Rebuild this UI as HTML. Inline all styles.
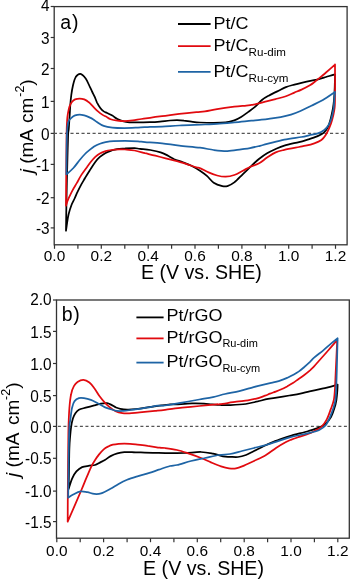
<!DOCTYPE html>
<html><head><meta charset="utf-8"><style>
html,body{margin:0;padding:0;background:#fff;}
svg{display:block;will-change:transform;filter:blur(0.35px);}
text{font-family:"Liberation Sans",sans-serif;fill:#000;}
.tk{font-size:15.4px;}
.lg{font-size:18px;}
.sb{font-size:11.5px;}
.pl{font-size:19.5px;}
.ti{font-size:19.6px;}
.yt{font-size:19px;}
.sp{font-size:12.4px;}
</style></head><body>
<svg width="350" height="579" viewBox="0 0 350 579">
<rect width="350" height="579" fill="#fff"/>
<rect x="54.2" y="6.6" width="292.90000000000003" height="238.20000000000002" fill="none" stroke="#333333" stroke-width="1.3"/>
<line x1="54.5" y1="244.8" x2="54.5" y2="248.8" stroke="#333333" stroke-width="1.2"/>
<text x="54.5" y="261.0" text-anchor="middle" class="tk">0.0</text>
<line x1="77.9" y1="244.8" x2="77.9" y2="248.8" stroke="#333333" stroke-width="1.2"/>
<line x1="101.3" y1="244.8" x2="101.3" y2="248.8" stroke="#333333" stroke-width="1.2"/>
<text x="101.3" y="261.0" text-anchor="middle" class="tk">0.2</text>
<line x1="124.8" y1="244.8" x2="124.8" y2="248.8" stroke="#333333" stroke-width="1.2"/>
<line x1="148.2" y1="244.8" x2="148.2" y2="248.8" stroke="#333333" stroke-width="1.2"/>
<text x="148.2" y="261.0" text-anchor="middle" class="tk">0.4</text>
<line x1="171.6" y1="244.8" x2="171.6" y2="248.8" stroke="#333333" stroke-width="1.2"/>
<line x1="195.0" y1="244.8" x2="195.0" y2="248.8" stroke="#333333" stroke-width="1.2"/>
<text x="195.0" y="261.0" text-anchor="middle" class="tk">0.6</text>
<line x1="218.4" y1="244.8" x2="218.4" y2="248.8" stroke="#333333" stroke-width="1.2"/>
<line x1="241.9" y1="244.8" x2="241.9" y2="248.8" stroke="#333333" stroke-width="1.2"/>
<text x="241.9" y="261.0" text-anchor="middle" class="tk">0.8</text>
<line x1="265.3" y1="244.8" x2="265.3" y2="248.8" stroke="#333333" stroke-width="1.2"/>
<line x1="288.7" y1="244.8" x2="288.7" y2="248.8" stroke="#333333" stroke-width="1.2"/>
<text x="288.7" y="261.0" text-anchor="middle" class="tk">1.0</text>
<line x1="312.1" y1="244.8" x2="312.1" y2="248.8" stroke="#333333" stroke-width="1.2"/>
<line x1="335.5" y1="244.8" x2="335.5" y2="248.8" stroke="#333333" stroke-width="1.2"/>
<text x="335.5" y="261.0" text-anchor="middle" class="tk">1.2</text>
<line x1="50.7" y1="6.5" x2="54.2" y2="6.5" stroke="#333333" stroke-width="1.2"/>
<text transform="translate(49.6,11.0) scale(1,1.12)" text-anchor="end" class="tk">4</text>
<line x1="50.7" y1="37.5" x2="54.2" y2="37.5" stroke="#333333" stroke-width="1.2"/>
<text transform="translate(49.6,43.6) scale(1,1.12)" text-anchor="end" class="tk">3</text>
<line x1="50.7" y1="68.5" x2="54.2" y2="68.5" stroke="#333333" stroke-width="1.2"/>
<text transform="translate(49.6,74.6) scale(1,1.12)" text-anchor="end" class="tk">2</text>
<line x1="50.7" y1="101.4" x2="54.2" y2="101.4" stroke="#333333" stroke-width="1.2"/>
<text transform="translate(49.6,107.5) scale(1,1.12)" text-anchor="end" class="tk">1</text>
<line x1="50.7" y1="133.4" x2="54.2" y2="133.4" stroke="#333333" stroke-width="1.2"/>
<text transform="translate(49.6,139.5) scale(1,1.12)" text-anchor="end" class="tk">0</text>
<line x1="50.7" y1="164.4" x2="54.2" y2="164.4" stroke="#333333" stroke-width="1.2"/>
<text transform="translate(49.6,170.5) scale(1,1.12)" text-anchor="end" class="tk">-1</text>
<line x1="50.7" y1="197.7" x2="54.2" y2="197.7" stroke="#333333" stroke-width="1.2"/>
<text transform="translate(49.6,203.8) scale(1,1.12)" text-anchor="end" class="tk">-2</text>
<line x1="50.7" y1="227.9" x2="54.2" y2="227.9" stroke="#333333" stroke-width="1.2"/>
<text transform="translate(49.6,234.0) scale(1,1.12)" text-anchor="end" class="tk">-3</text>
<rect x="56.5" y="300.0" width="292.8" height="238.20000000000005" fill="none" stroke="#333333" stroke-width="1.3"/>
<line x1="56.8" y1="538.2" x2="56.8" y2="542.2" stroke="#333333" stroke-width="1.2"/>
<text x="56.8" y="556.3" text-anchor="middle" class="tk">0.0</text>
<line x1="80.2" y1="538.2" x2="80.2" y2="542.2" stroke="#333333" stroke-width="1.2"/>
<line x1="103.6" y1="538.2" x2="103.6" y2="542.2" stroke="#333333" stroke-width="1.2"/>
<text x="103.6" y="556.3" text-anchor="middle" class="tk">0.2</text>
<line x1="127.1" y1="538.2" x2="127.1" y2="542.2" stroke="#333333" stroke-width="1.2"/>
<line x1="150.5" y1="538.2" x2="150.5" y2="542.2" stroke="#333333" stroke-width="1.2"/>
<text x="150.5" y="556.3" text-anchor="middle" class="tk">0.4</text>
<line x1="173.9" y1="538.2" x2="173.9" y2="542.2" stroke="#333333" stroke-width="1.2"/>
<line x1="197.3" y1="538.2" x2="197.3" y2="542.2" stroke="#333333" stroke-width="1.2"/>
<text x="197.3" y="556.3" text-anchor="middle" class="tk">0.6</text>
<line x1="220.7" y1="538.2" x2="220.7" y2="542.2" stroke="#333333" stroke-width="1.2"/>
<line x1="244.2" y1="538.2" x2="244.2" y2="542.2" stroke="#333333" stroke-width="1.2"/>
<text x="244.2" y="556.3" text-anchor="middle" class="tk">0.8</text>
<line x1="267.6" y1="538.2" x2="267.6" y2="542.2" stroke="#333333" stroke-width="1.2"/>
<line x1="291.0" y1="538.2" x2="291.0" y2="542.2" stroke="#333333" stroke-width="1.2"/>
<text x="291.0" y="556.3" text-anchor="middle" class="tk">1.0</text>
<line x1="314.4" y1="538.2" x2="314.4" y2="542.2" stroke="#333333" stroke-width="1.2"/>
<line x1="337.8" y1="538.2" x2="337.8" y2="542.2" stroke="#333333" stroke-width="1.2"/>
<text x="337.8" y="556.3" text-anchor="middle" class="tk">1.2</text>
<line x1="53.0" y1="300.0" x2="56.5" y2="300.0" stroke="#333333" stroke-width="1.2"/>
<text transform="translate(51.6,304.5) scale(1,1.12)" text-anchor="end" class="tk">2.0</text>
<line x1="53.0" y1="331.4" x2="56.5" y2="331.4" stroke="#333333" stroke-width="1.2"/>
<text transform="translate(51.6,337.5) scale(1,1.12)" text-anchor="end" class="tk">1.5</text>
<line x1="53.0" y1="363.5" x2="56.5" y2="363.5" stroke="#333333" stroke-width="1.2"/>
<text transform="translate(51.6,369.6) scale(1,1.12)" text-anchor="end" class="tk">1.0</text>
<line x1="53.0" y1="395.6" x2="56.5" y2="395.6" stroke="#333333" stroke-width="1.2"/>
<text transform="translate(51.6,401.7) scale(1,1.12)" text-anchor="end" class="tk">0.5</text>
<line x1="53.0" y1="426.4" x2="56.5" y2="426.4" stroke="#333333" stroke-width="1.2"/>
<text transform="translate(51.6,432.5) scale(1,1.12)" text-anchor="end" class="tk">0.0</text>
<line x1="53.0" y1="458.3" x2="56.5" y2="458.3" stroke="#333333" stroke-width="1.2"/>
<text transform="translate(51.6,464.4) scale(1,1.12)" text-anchor="end" class="tk">-0.5</text>
<line x1="53.0" y1="491.1" x2="56.5" y2="491.1" stroke="#333333" stroke-width="1.2"/>
<text transform="translate(51.6,497.2) scale(1,1.12)" text-anchor="end" class="tk">-1.0</text>
<line x1="53.0" y1="521.6" x2="56.5" y2="521.6" stroke="#333333" stroke-width="1.2"/>
<text transform="translate(51.6,527.7) scale(1,1.12)" text-anchor="end" class="tk">-1.5</text>
<line x1="53.9" y1="133.4" x2="345.6" y2="133.4" stroke="#555" stroke-width="1.1" stroke-dasharray="3.1,2.422"/>
<line x1="57.9" y1="426.4" x2="347.4" y2="426.4" stroke="#555" stroke-width="1.1" stroke-dasharray="3.0,2.5"/>
<path d="M66.0,230.7 C66.1,226.4 66.2,213.4 66.4,205.0 C66.6,196.6 66.7,187.5 66.9,180.0 C67.1,172.5 67.2,167.5 67.4,160.0 C67.6,152.5 67.9,140.1 68.1,135.0 C68.3,129.9 68.5,132.4 68.7,129.3 C69.0,126.2 69.3,120.7 69.6,116.4 C69.9,112.1 70.1,107.2 70.4,103.6 C70.7,100.0 70.9,98.0 71.3,95.0 C71.7,92.0 72.2,88.7 72.9,85.7 C73.6,82.7 74.5,79.1 75.7,77.1 C77.0,75.1 78.7,73.7 80.4,73.9 C82.1,74.2 84.1,76.4 85.7,78.6 C87.3,80.8 88.9,84.9 90.0,87.1 C91.1,89.3 91.5,90.4 92.3,92.0 C93.1,93.6 93.8,94.9 94.6,96.6 C95.4,98.3 96.0,100.4 96.9,102.3 C97.9,104.2 99.2,106.5 100.3,108.0 C101.4,109.5 102.6,110.6 103.7,111.4 C104.8,112.2 105.7,112.3 107.1,113.0 C108.5,113.7 110.6,114.6 112.3,115.6 C114.0,116.6 115.7,118.1 117.4,119.0 C119.1,119.9 120.6,120.5 122.6,121.1 C124.6,121.7 126.8,122.2 129.4,122.4 C132.0,122.6 134.6,122.4 138.0,122.4 C141.4,122.4 146.3,122.3 150.0,122.2 C153.7,122.1 156.7,121.9 160.0,121.6 C163.3,121.3 167.2,120.7 170.0,120.5 C172.8,120.3 174.7,120.2 177.0,120.2 C179.3,120.2 181.6,120.3 184.0,120.6 C186.4,120.8 188.7,121.4 191.4,121.7 C194.1,122.0 196.3,122.3 200.0,122.5 C203.7,122.7 209.4,122.9 213.7,122.9 C218.0,122.9 222.3,122.8 225.7,122.4 C229.1,122.0 231.7,121.3 234.3,120.4 C236.9,119.5 238.8,118.4 241.1,117.0 C243.4,115.6 245.7,113.8 248.0,112.1 C250.3,110.4 252.7,108.9 255.0,106.9 C257.3,104.9 259.6,101.9 261.9,100.0 C264.2,98.1 266.1,97.1 268.7,95.7 C271.3,94.3 274.4,92.8 277.3,91.4 C280.2,90.0 283.0,88.2 285.9,87.1 C288.8,86.0 291.8,85.3 294.4,84.6 C297.0,83.9 298.6,83.5 301.5,82.8 C304.4,82.1 309.0,81.1 311.6,80.6 C314.2,80.1 314.7,80.2 317.1,79.6 C319.5,79.0 323.0,77.9 326.0,77.0 C329.0,76.1 333.5,74.8 335.0,74.3 M335.0,74.3 C334.9,76.6 334.9,83.7 334.7,88.0 C334.5,92.3 334.3,96.6 334.0,100.0 C333.7,103.4 333.4,105.5 332.9,108.6 C332.3,111.7 331.5,115.5 330.7,118.6 C329.9,121.7 329.1,124.7 327.9,127.1 C326.7,129.5 325.4,131.3 323.6,132.9 C321.8,134.5 319.6,135.3 317.1,136.4 C314.6,137.5 311.6,138.4 308.6,139.3 C305.6,140.2 303.1,141.1 299.0,142.1 C294.9,143.1 288.2,144.4 284.3,145.6 C280.4,146.8 278.6,147.7 275.7,149.0 C272.8,150.3 270.0,151.6 267.1,153.3 C264.2,155.0 261.4,157.1 258.6,159.3 C255.8,161.5 253.1,164.2 250.5,166.7 C247.9,169.2 245.6,171.5 242.9,174.1 C240.2,176.7 236.9,180.4 234.3,182.4 C231.7,184.4 229.4,185.5 227.4,186.1 C225.4,186.7 224.6,186.7 222.3,186.1 C220.0,185.5 216.3,184.4 213.7,182.7 C211.1,181.0 209.2,177.9 206.9,175.9 C204.6,173.9 202.6,172.4 200.0,170.7 C197.4,169.0 194.2,167.1 191.4,165.7 C188.6,164.3 185.8,163.4 182.9,162.3 C180.1,161.2 176.9,160.3 174.3,159.2 C171.7,158.0 169.7,156.6 167.4,155.4 C165.1,154.2 163.4,153.2 160.6,152.3 C157.8,151.4 153.7,150.6 150.3,150.0 C146.9,149.4 142.6,149.2 140.0,148.9 C137.4,148.6 137.1,148.2 134.6,148.1 C132.1,148.0 127.9,148.3 125.0,148.5 C122.1,148.7 119.3,148.8 117.0,149.1 C114.7,149.4 113.2,150.0 111.3,150.6 C109.4,151.2 107.5,151.8 105.6,152.9 C103.7,154.0 101.6,155.4 99.9,156.9 C98.2,158.4 96.8,160.0 95.3,162.0 C93.8,164.0 92.3,166.4 90.6,169.1 C88.9,171.8 86.6,175.4 84.9,178.3 C83.2,181.2 81.6,183.8 80.3,186.3 C79.0,188.8 77.9,191.1 76.9,193.1 C76.0,195.1 75.5,196.5 74.6,198.5 C73.7,200.5 72.4,202.6 71.4,205.2 C70.4,207.8 69.3,211.4 68.6,214.3 C67.9,217.2 67.5,220.2 67.1,222.9 C66.7,225.6 66.2,229.4 66.0,230.7" fill="none" stroke="#000000" stroke-width="1.75" stroke-linejoin="round" stroke-linecap="round"/>
<path d="M66.0,205.7 C66.0,200.6 66.1,187.0 66.2,175.0 C66.3,163.0 66.4,142.7 66.6,133.6 C66.8,124.5 66.9,123.8 67.1,120.7 C67.3,117.6 67.3,117.2 67.7,114.9 C68.1,112.6 68.7,109.0 69.4,106.9 C70.1,104.8 70.8,103.5 71.7,102.3 C72.7,101.0 73.8,100.0 75.1,99.4 C76.4,98.8 78.2,98.5 79.7,98.5 C81.2,98.5 82.8,98.8 84.3,99.4 C85.8,100.0 87.4,101.0 88.9,102.3 C90.4,103.5 91.9,105.4 93.4,106.9 C94.9,108.4 96.5,110.1 98.0,111.4 C99.5,112.7 101.3,114.0 102.6,114.9 C103.9,115.8 104.7,115.9 106.0,116.6 C107.3,117.3 108.7,118.6 110.6,119.3 C112.5,120.0 115.1,120.4 117.4,120.7 C119.7,121.0 121.7,121.2 124.3,121.2 C126.9,121.2 130.1,120.8 132.9,120.4 C135.8,120.0 138.6,119.4 141.4,119.0 C144.2,118.6 146.6,118.3 150.0,117.8 C153.4,117.3 157.2,116.8 162.1,116.2 C167.0,115.6 173.6,114.6 179.3,113.9 C185.0,113.2 192.1,112.5 196.4,112.1 C200.7,111.7 201.6,111.8 205.0,111.3 C208.4,110.8 212.2,109.9 217.1,109.1 C222.0,108.3 229.4,107.3 234.3,106.7 C239.2,106.1 243.5,105.9 246.3,105.6 C249.2,105.3 250.0,105.1 251.4,104.9 C252.8,104.7 252.7,104.8 255.0,104.3 C257.3,103.8 261.9,102.6 265.3,101.7 C268.7,100.8 272.2,100.0 275.6,99.1 C279.0,98.2 282.8,97.3 285.9,96.2 C289.0,95.1 291.8,93.7 294.4,92.6 C297.0,91.5 298.9,90.8 301.5,89.6 C304.1,88.4 307.7,86.6 309.9,85.3 C312.1,84.0 312.6,83.5 314.5,82.0 C316.4,80.5 319.5,78.0 321.4,76.4 C323.3,74.8 323.7,74.5 326.0,72.5 C328.3,70.5 333.5,65.9 335.0,64.6 M335.0,64.3 C335.0,70.2 335.1,92.4 335.0,100.0 C334.9,107.6 334.8,106.7 334.3,110.0 C333.8,113.3 332.9,117.0 332.1,120.0 C331.3,123.0 330.4,125.4 329.3,127.9 C328.2,130.4 327.0,133.0 325.7,135.0 C324.4,137.0 323.3,138.6 321.4,140.0 C319.5,141.4 316.9,142.4 314.3,143.3 C311.7,144.2 308.2,145.1 305.7,145.7 C303.1,146.3 302.6,146.3 299.0,147.0 C295.4,147.7 288.2,149.0 284.3,149.9 C280.4,150.8 278.6,151.1 275.7,152.4 C272.8,153.7 270.0,155.7 267.1,157.6 C264.2,159.5 261.4,162.1 258.6,163.6 C255.8,165.1 253.1,165.5 250.5,166.7 C247.9,167.9 245.6,169.3 242.9,170.7 C240.2,172.1 237.2,174.0 234.3,175.0 C231.4,176.0 228.6,176.6 225.7,176.7 C222.8,176.8 219.9,176.2 217.1,175.5 C214.2,174.8 211.4,173.6 208.6,172.4 C205.8,171.2 202.0,168.9 200.0,168.1 C198.0,167.2 198.7,168.0 196.4,167.3 C194.1,166.6 189.5,165.0 186.1,163.9 C182.7,162.8 179.3,161.7 175.9,160.8 C172.5,159.9 169.0,159.3 165.6,158.4 C162.2,157.5 158.7,156.5 155.3,155.6 C151.9,154.7 148.4,154.0 145.0,153.2 C141.6,152.3 137.9,151.1 134.6,150.5 C131.3,149.9 127.5,149.7 125.0,149.5 C122.5,149.3 121.6,149.3 119.3,149.4 C117.0,149.5 113.6,149.7 111.3,150.0 C109.0,150.3 107.5,150.5 105.6,151.1 C103.7,151.7 101.6,152.4 99.9,153.4 C98.2,154.4 96.8,155.5 95.3,156.9 C93.8,158.3 92.1,160.3 90.7,162.0 C89.3,163.7 88.6,164.8 87.1,166.9 C85.5,169.1 83.1,172.2 81.4,174.9 C79.7,177.6 78.3,180.4 76.9,182.9 C75.5,185.4 74.2,187.4 72.9,189.7 C71.7,192.0 70.3,194.8 69.4,196.6 C68.5,198.4 68.3,199.0 67.7,200.5 C67.1,202.0 66.3,204.8 66.0,205.7" fill="none" stroke="#E10A0F" stroke-width="1.75" stroke-linejoin="round" stroke-linecap="round"/>
<path d="M66.4,174.3 C66.4,170.2 66.5,156.9 66.6,150.0 C66.7,143.1 66.7,137.4 67.0,132.7 C67.3,128.0 67.5,124.5 68.3,122.0 C69.1,119.5 70.6,118.8 71.7,117.7 C72.8,116.6 73.8,115.9 75.1,115.4 C76.4,114.9 78.2,114.6 79.7,114.6 C81.2,114.6 82.8,115.0 84.3,115.4 C85.8,115.8 87.4,116.4 88.9,117.1 C90.4,117.8 92.1,118.6 93.4,119.4 C94.7,120.2 95.2,120.9 96.9,122.0 C98.6,123.1 101.1,125.0 103.7,125.9 C106.3,126.8 108.9,127.2 112.3,127.6 C115.7,128.0 120.0,128.1 124.3,128.1 C128.6,128.1 133.7,127.8 138.0,127.6 C142.3,127.4 146.0,127.1 150.0,126.9 C154.0,126.8 157.2,126.9 162.1,126.7 C167.0,126.5 172.2,125.9 179.3,125.5 C186.5,125.1 198.7,124.8 205.0,124.5 C211.3,124.2 212.2,124.1 217.1,123.8 C222.0,123.5 228.6,122.9 234.3,122.4 C240.0,121.9 247.1,121.1 251.4,120.7 C255.7,120.3 257.1,120.2 260.0,119.9 C262.9,119.6 265.2,119.4 268.7,118.9 C272.1,118.4 277.0,117.8 280.7,117.1 C284.4,116.4 287.7,115.6 291.0,114.6 C294.3,113.6 297.1,112.5 300.5,111.0 C303.9,109.5 307.7,107.5 311.4,105.7 C315.1,103.9 319.0,102.3 322.9,100.0 C326.8,97.7 333.0,93.2 335.0,91.9 M335.0,91.9 C334.9,93.2 334.5,97.2 334.3,100.0 C334.1,102.8 334.1,105.5 333.6,108.6 C333.1,111.7 332.2,115.9 331.4,118.6 C330.6,121.3 329.8,123.1 328.6,125.0 C327.4,126.9 326.2,128.6 324.3,130.0 C322.4,131.4 319.7,132.7 317.1,133.6 C314.6,134.5 311.6,134.7 309.0,135.3 C306.4,135.9 305.5,136.3 301.4,137.0 C297.3,137.7 290.0,138.4 284.3,139.6 C278.6,140.8 271.2,142.9 267.1,143.9 C263.1,144.9 262.9,145.1 260.0,145.8 C257.1,146.5 253.2,147.5 250.0,148.1 C246.8,148.7 244.9,148.8 241.1,149.3 C237.3,149.8 232.0,151.0 227.4,151.1 C222.8,151.2 218.3,150.6 213.7,150.0 C209.1,149.4 205.7,148.4 200.0,147.7 C194.3,147.0 185.6,146.3 179.3,145.6 C173.0,144.9 167.8,143.9 162.1,143.3 C156.4,142.7 149.0,142.4 145.0,142.1 C141.0,141.8 141.3,141.5 138.0,141.3 C134.7,141.1 129.1,140.9 125.0,140.9 C120.9,140.9 116.8,141.0 113.6,141.2 C110.4,141.4 107.9,141.8 105.6,142.2 C103.3,142.6 101.8,143.0 99.9,143.7 C98.0,144.4 95.8,145.5 94.1,146.6 C92.4,147.7 91.1,148.8 89.6,150.0 C88.1,151.2 86.7,152.3 85.0,154.0 C83.3,155.7 81.6,157.7 79.7,160.0 C77.8,162.3 75.6,165.6 73.4,168.0 C71.2,170.4 67.7,173.2 66.5,174.3" fill="none" stroke="#1E64A5" stroke-width="1.75" stroke-linejoin="round" stroke-linecap="round"/>
<path d="M68.6,489.0 C68.7,485.8 68.9,476.9 69.0,470.0 C69.1,463.1 69.2,452.8 69.4,447.7 C69.6,442.6 69.6,442.5 69.9,439.1 C70.2,435.7 70.6,430.5 71.1,427.1 C71.6,423.7 72.2,420.9 72.9,418.6 C73.6,416.3 74.4,414.8 75.4,413.3 C76.4,411.8 77.2,410.6 78.9,409.7 C80.6,408.8 83.1,408.4 85.7,407.7 C88.3,407.0 91.7,406.1 94.3,405.4 C96.9,404.7 99.0,404.1 101.1,403.7 C103.2,403.3 105.4,403.0 107.1,403.2 C108.8,403.4 109.9,404.2 111.4,404.9 C112.9,405.6 114.5,406.9 116.0,407.5 C117.5,408.1 118.5,408.5 120.3,408.8 C122.1,409.1 124.5,409.4 127.1,409.5 C129.7,409.6 132.8,409.4 135.7,409.1 C138.6,408.8 141.4,408.3 144.3,407.9 C147.2,407.5 150.1,407.0 152.9,406.6 C155.8,406.2 158.6,405.8 161.4,405.4 C164.2,405.0 167.6,404.5 170.0,404.3 C172.4,404.1 172.3,404.5 176.0,404.4 C179.7,404.2 187.3,403.5 192.0,403.4 C196.7,403.3 200.7,403.4 204.0,403.6 C207.3,403.8 209.3,404.2 212.0,404.4 C214.7,404.6 217.0,404.9 220.0,405.0 C223.0,405.1 225.7,405.3 230.0,405.1 C234.3,404.9 241.1,404.6 245.7,404.0 C250.3,403.4 254.0,402.2 257.7,401.4 C261.4,400.5 265.1,399.5 268.0,398.9 C270.9,398.3 271.4,398.5 275.0,397.9 C278.6,397.3 285.2,396.2 289.4,395.5 C293.6,394.8 296.9,394.3 300.3,393.6 C303.7,392.9 306.0,392.2 309.6,391.4 C313.2,390.6 318.7,389.4 322.1,388.6 C325.5,387.9 327.5,387.6 330.1,386.9 C332.7,386.2 336.4,385.0 337.6,384.6 M337.6,384.6 C337.6,385.5 337.6,387.4 337.4,390.0 C337.2,392.6 336.9,396.9 336.4,400.0 C335.9,403.1 335.2,405.8 334.3,408.6 C333.4,411.5 332.4,414.6 331.0,417.1 C329.6,419.6 327.6,421.9 325.7,423.6 C323.8,425.3 322.1,426.2 319.3,427.4 C316.5,428.6 313.2,429.6 308.6,431.0 C304.0,432.4 296.2,434.2 291.4,435.6 C286.6,437.0 282.9,438.3 280.0,439.3 C277.1,440.3 276.7,440.5 274.0,441.6 C271.3,442.7 267.3,444.4 264.0,446.0 C260.7,447.6 257.0,449.5 254.0,451.0 C251.0,452.5 248.7,454.0 246.0,455.0 C243.3,456.0 240.7,456.7 238.0,457.0 C235.3,457.3 232.5,456.9 230.0,456.8 C227.5,456.7 225.8,456.9 223.0,456.4 C220.2,455.9 216.7,454.3 213.0,453.6 C209.3,452.9 205.7,452.1 201.0,452.0 C196.3,451.9 190.2,452.8 185.0,453.0 C179.8,453.2 175.3,453.1 170.0,453.1 C164.7,453.1 158.6,452.9 152.9,452.8 C147.2,452.7 139.5,452.4 135.7,452.3 C131.9,452.2 131.9,452.0 130.0,452.0 C128.1,452.0 126.4,452.0 124.3,452.2 C122.2,452.4 119.7,452.8 117.4,453.4 C115.1,454.0 112.7,455.0 110.6,456.1 C108.5,457.2 106.6,459.0 104.9,460.0 C103.2,461.0 102.4,461.3 100.7,462.1 C99.0,462.9 96.9,464.4 95.0,465.0 C93.1,465.6 91.5,465.3 89.3,465.7 C87.1,466.1 84.2,466.2 82.1,467.1 C79.9,468.1 78.1,469.5 76.4,471.4 C74.7,473.3 73.4,475.7 72.1,478.6 C70.8,481.5 69.2,487.3 68.6,489.0" fill="none" stroke="#000000" stroke-width="1.75" stroke-linejoin="round" stroke-linecap="round"/>
<path d="M67.7,521.7 C67.7,514.8 67.8,493.6 67.9,480.0 C68.0,466.4 68.2,449.4 68.3,440.0 C68.4,430.6 68.4,429.0 68.6,423.7 C68.8,418.4 69.0,412.9 69.4,408.0 C69.8,403.1 70.3,397.9 71.1,394.3 C71.8,390.7 72.8,388.2 73.9,386.2 C75.0,384.1 75.9,383.1 77.5,382.0 C79.1,380.9 81.4,379.7 83.4,379.8 C85.4,379.9 87.6,381.1 89.4,382.5 C91.2,383.9 92.8,386.2 94.5,388.5 C96.2,390.8 97.7,393.7 99.4,396.0 C101.1,398.3 103.0,400.6 104.6,402.3 C106.1,404.0 106.9,404.8 108.7,406.3 C110.5,407.8 113.3,410.1 115.6,411.2 C117.9,412.3 120.1,412.8 122.4,413.2 C124.7,413.6 126.4,413.5 129.3,413.4 C132.2,413.3 135.3,412.8 139.6,412.4 C143.9,412.0 150.8,411.2 155.0,410.8 C159.2,410.4 160.5,410.3 165.0,409.8 C169.5,409.3 176.4,408.3 182.1,407.7 C187.8,407.1 193.6,406.6 199.3,406.0 C205.0,405.4 213.0,404.6 216.4,404.3 C219.8,404.0 216.7,404.6 220.0,404.2 C223.3,403.8 231.8,402.3 236.4,401.7 C241.1,401.1 244.6,400.8 247.9,400.3 C251.2,399.8 253.5,399.4 256.4,398.6 C259.2,397.8 262.7,396.5 265.0,395.7 C267.3,394.9 268.2,394.3 270.0,393.6 C271.8,392.9 273.8,392.3 275.7,391.6 C277.6,390.9 279.5,390.2 281.4,389.3 C283.3,388.4 285.2,387.4 287.1,386.4 C289.0,385.3 291.0,384.2 292.9,383.0 C294.8,381.8 296.7,380.3 298.6,379.0 C300.5,377.7 302.4,376.4 304.3,375.0 C306.2,373.6 308.4,371.8 310.0,370.4 C311.6,368.9 311.9,368.7 314.1,366.3 C316.3,363.9 320.4,359.2 323.3,356.0 C326.2,352.8 329.0,349.5 331.3,346.9 C333.6,344.3 336.2,341.3 337.2,340.2 M337.2,340.2 C337.0,345.2 336.2,362.0 335.8,370.0 C335.4,378.0 335.3,383.0 335.0,388.0 C334.7,393.0 334.5,396.6 333.8,400.0 C333.1,403.4 332.2,405.4 331.0,408.6 C329.8,411.8 328.4,416.3 326.8,419.3 C325.2,422.3 323.5,424.8 321.4,426.8 C319.3,428.8 316.1,430.0 314.0,431.2 C311.9,432.4 310.9,432.9 308.6,433.8 C306.3,434.7 302.9,435.6 300.0,436.6 C297.1,437.6 293.7,438.7 291.4,439.6 C289.1,440.5 288.6,440.6 286.0,442.0 C283.4,443.4 279.3,445.8 276.0,448.0 C272.7,450.2 269.7,452.8 266.0,455.0 C262.3,457.2 257.7,459.2 254.0,461.0 C250.3,462.8 247.0,464.4 244.0,465.6 C241.0,466.8 238.5,467.9 236.0,468.4 C233.5,468.9 231.5,468.7 229.0,468.4 C226.5,468.1 224.0,467.4 221.0,466.4 C218.0,465.4 214.3,463.8 211.0,462.4 C207.7,461.0 204.7,459.5 201.0,458.0 C197.3,456.5 193.0,454.9 189.0,453.6 C185.0,452.3 181.0,450.9 177.0,450.0 C173.0,449.1 167.9,448.4 165.0,448.0 C162.1,447.6 162.6,448.1 159.7,447.7 C156.8,447.3 151.7,446.4 147.7,445.9 C143.7,445.3 138.6,444.8 135.7,444.4 C132.8,444.0 131.9,443.9 130.0,443.8 C128.1,443.7 126.2,443.6 124.3,443.6 C122.4,443.6 120.5,443.6 118.6,443.8 C116.7,444.0 114.6,444.3 112.9,444.7 C111.2,445.1 109.8,445.6 108.3,446.4 C106.8,447.2 105.2,448.0 103.7,449.3 C102.2,450.6 100.5,452.6 99.1,454.4 C97.7,456.2 96.4,458.0 95.1,460.0 C93.8,462.0 92.9,463.4 91.4,466.4 C90.0,469.4 88.1,474.0 86.4,477.9 C84.7,481.8 84.5,482.7 81.4,490.0 C78.3,497.3 70.0,516.4 67.7,521.7" fill="none" stroke="#E10A0F" stroke-width="1.75" stroke-linejoin="round" stroke-linecap="round"/>
<path d="M68.2,497.7 C68.2,493.1 68.4,479.6 68.5,470.0 C68.6,460.4 68.7,447.5 68.9,440.0 C69.1,432.5 69.3,428.3 69.5,425.0 C69.7,421.7 69.9,422.8 70.3,420.0 C70.7,417.2 71.3,411.1 72.0,408.0 C72.7,404.9 73.4,402.8 74.6,401.1 C75.8,399.5 77.3,398.6 78.9,398.1 C80.5,397.6 82.0,397.8 84.0,398.1 C86.0,398.4 88.6,399.0 90.9,399.8 C93.2,400.6 95.4,402.0 97.7,403.2 C100.0,404.4 102.5,406.1 104.6,407.1 C106.6,408.1 108.0,408.4 110.0,409.0 C112.0,409.6 114.6,410.6 116.9,410.9 C119.2,411.2 121.4,411.0 123.7,410.9 C126.0,410.8 128.0,410.4 130.6,410.0 C133.2,409.6 136.2,409.2 139.1,408.8 C141.9,408.4 144.5,407.9 147.7,407.4 C150.8,406.9 155.1,406.0 158.0,405.7 C160.9,405.4 161.0,406.0 165.0,405.5 C169.0,405.0 176.4,403.6 182.1,402.6 C187.8,401.6 194.2,400.4 199.3,399.5 C204.5,398.6 208.7,398.0 213.0,397.1 C217.3,396.2 220.6,395.0 225.0,394.0 C229.4,393.0 234.5,392.2 239.3,391.1 C244.1,390.0 248.8,388.4 253.6,387.1 C258.4,385.9 264.2,384.5 267.9,383.6 C271.6,382.7 273.4,382.5 275.7,381.9 C277.9,381.3 279.5,380.8 281.4,380.1 C283.3,379.4 285.2,378.8 287.1,377.9 C289.0,377.0 291.0,376.1 292.9,375.0 C294.8,373.9 296.7,372.9 298.6,371.6 C300.5,370.3 302.4,368.6 304.3,367.0 C306.2,365.4 308.4,363.4 310.0,361.9 C311.6,360.3 311.9,359.6 314.1,357.7 C316.3,355.8 320.4,352.7 323.3,350.3 C326.2,347.9 328.9,345.4 331.3,343.4 C333.7,341.4 336.6,339.1 337.6,338.3 M337.6,338.3 C337.5,343.6 337.0,361.7 336.8,370.0 C336.6,378.3 336.4,383.0 336.2,388.0 C336.0,393.0 335.9,396.6 335.4,400.0 C334.9,403.4 334.1,405.8 333.2,408.6 C332.3,411.5 331.2,414.3 330.0,417.1 C328.8,419.9 327.5,423.2 325.7,425.3 C323.9,427.4 322.1,428.7 319.3,430.0 C316.5,431.3 313.2,432.1 308.6,433.2 C304.0,434.3 296.5,435.5 291.4,436.8 C286.3,438.1 282.2,439.8 278.0,441.2 C273.8,442.6 270.0,443.9 266.0,445.0 C262.0,446.1 258.0,447.0 254.0,448.0 C250.0,449.0 246.0,450.0 242.0,451.0 C238.0,452.0 233.8,453.3 230.0,454.0 C226.2,454.7 223.2,454.3 219.0,455.0 C214.8,455.7 209.7,457.0 205.0,458.0 C200.3,459.0 195.7,459.8 191.0,461.0 C186.3,462.2 180.5,464.2 177.0,465.0 C173.5,465.8 172.9,465.3 170.0,466.0 C167.1,466.7 163.1,468.2 159.7,469.4 C156.3,470.5 153.1,471.8 149.4,472.9 C145.7,474.0 141.1,475.2 137.4,476.3 C133.7,477.4 130.2,478.4 127.1,479.7 C124.0,481.0 121.4,482.4 118.6,484.0 C115.8,485.6 112.9,487.5 110.0,489.1 C107.1,490.7 103.7,492.6 101.1,493.4 C98.5,494.2 96.6,494.1 94.3,493.9 C92.0,493.7 89.7,492.6 87.4,492.2 C85.1,491.8 82.9,491.0 80.6,491.4 C78.3,491.8 75.8,493.2 73.7,494.3 C71.6,495.4 69.1,497.1 68.2,497.7" fill="none" stroke="#1E64A5" stroke-width="1.75" stroke-linejoin="round" stroke-linecap="round"/>
<line x1="178" y1="24" x2="210.6" y2="24" stroke="#000000" stroke-width="1.8"/>
<text transform="translate(213.6,28.6) scale(1,0.95)" class="lg">Pt/C</text>
<line x1="178" y1="46.1" x2="210.6" y2="46.1" stroke="#E10A0F" stroke-width="1.8"/>
<text transform="translate(213.6,51.2) scale(1,0.95)" class="lg">Pt/C<tspan style="font-size:11.6px" dy="5.0">Ru-dim</tspan></text>
<line x1="178" y1="71.9" x2="210.6" y2="71.9" stroke="#1E64A5" stroke-width="1.8"/>
<text transform="translate(213.6,77.2) scale(1,0.95)" class="lg">Pt/C<tspan style="font-size:11.6px" dy="5.0">Ru-cym</tspan></text>
<line x1="136.4" y1="317.4" x2="163.6" y2="317.4" stroke="#000000" stroke-width="1.8"/>
<text transform="translate(166.4,321) scale(1,0.95)" class="lg">Pt/rGO</text>
<line x1="136.4" y1="338.4" x2="163.6" y2="338.4" stroke="#E10A0F" stroke-width="1.8"/>
<text transform="translate(166.4,342.6) scale(1,0.95)" class="lg">Pt/rGO<tspan style="font-size:11px" dy="4.4">Ru-dim</tspan></text>
<line x1="136.4" y1="362.6" x2="163.6" y2="362.6" stroke="#1E64A5" stroke-width="1.8"/>
<text transform="translate(166.4,367.4) scale(1,0.95)" class="lg">Pt/rGO<tspan style="font-size:11px" dy="4.4">Ru-cym</tspan></text>
<text x="60.2" y="28.5" class="pl">a<tspan dx="1">)</tspan></text>
<text x="61.8" y="321.1" class="pl">b<tspan dx="0.7">)</tspan></text>
<text x="141" y="279" class="ti">E (V vs. SHE)</text>
<text x="143.1" y="575.1" class="ti">E (V vs. SHE)</text>
<text transform="translate(32.9,173.3) rotate(-90)" class="ti yt"><tspan font-style="italic">j</tspan> (mA<tspan dx="1.8"> </tspan>cm<tspan class="sp" dx="0.9" dy="-9.2">-2</tspan><tspan dy="9.2">)</tspan></text>
<text transform="translate(18.9,476.9) rotate(-90)" class="ti yt"><tspan font-style="italic">j</tspan> (mA<tspan dx="3.3"> </tspan>cm<tspan class="sp" dx="-0.2" dy="-9.2">-2</tspan><tspan dy="9.2">)</tspan></text>
</svg>
</body></html>
